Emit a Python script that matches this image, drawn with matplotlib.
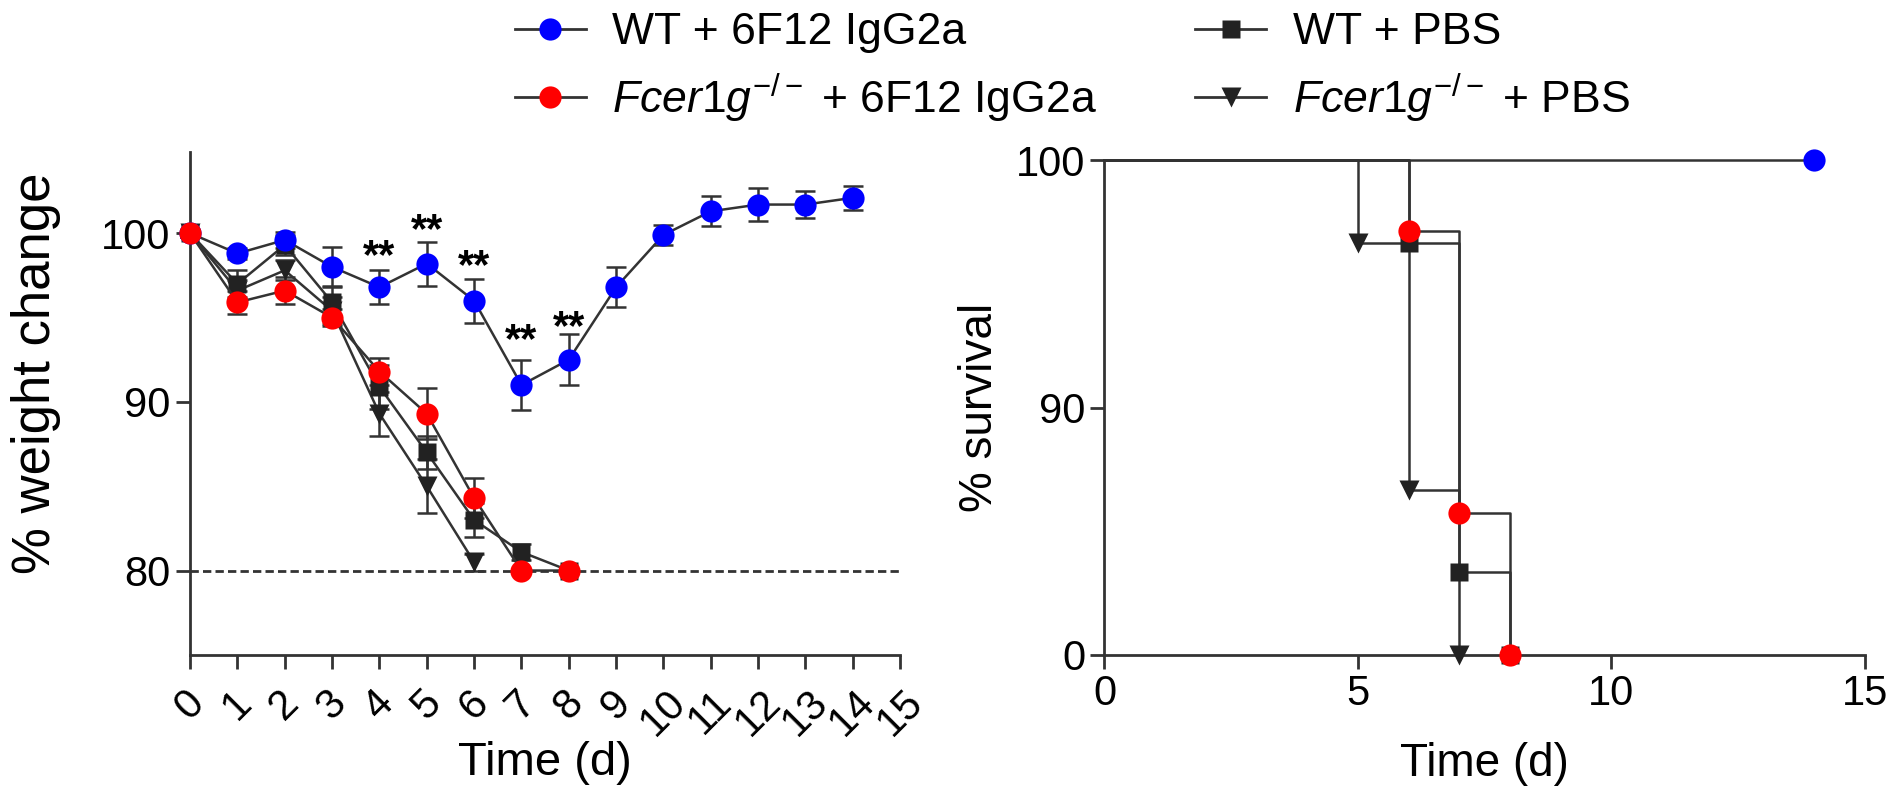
import numpy as np
import matplotlib
matplotlib.use('Agg')
import matplotlib.pyplot as plt
from matplotlib.lines import Line2D

plt.rcParams['font.family'] = ['Liberation Sans', 'DejaVu Sans']
plt.rcParams['mathtext.fontset'] = 'custom'
plt.rcParams['mathtext.rm'] = 'Liberation Sans'
plt.rcParams['mathtext.it'] = 'Liberation Sans:italic'

# weight change (% of day 0), mean and error
wt_6f12 = [100, 98.8, 99.6, 98.0, 96.8, 98.2, 96.0, 91.0, 92.5, 96.8, 99.9, 101.3, 101.7, 101.7, 102.1]
wt_6f12_err = [0.2, 0.3, 0.5, 1.2, 1.0, 1.3, 1.3, 1.5, 1.5, 1.2, 0.6, 0.9, 1.0, 0.8, 0.7]
ko_6f12 = [100, 95.9, 96.6, 95.0, 91.8, 89.3, 84.3, 80.0, 80.0]
ko_6f12_err = [0.2, 0.7, 0.8, 0.5, 0.8, 1.5, 1.2, 0, 0]
wt_pbs = [100, 97.0, 99.3, 95.9, 90.9, 87.0, 83.0, 81.1, 80.0]
wt_pbs_err = [0.2, 0.8, 0.6, 1.0, 1.3, 1.0, 1.0, 0.5, 0]
ko_pbs = [100, 96.6, 97.8, 95.4, 89.3, 85.0, 80.5]
ko_pbs_err = [0.2, 0.6, 0.6, 0.8, 1.3, 1.6, 0.5]

star_days = [4, 5, 6, 7, 8]
star_y = [98.6, 100.1, 98.0, 93.6, 94.4]

# survival steps
surv_wt_6f12_t = [0, 14]
surv_wt_6f12 = [100, 100]
surv_ko_6f12_t = [0, 6, 7, 8]
surv_ko_6f12 = [100, 85.7, 28.6, 0]
surv_wt_pbs_t = [0, 6, 7, 8]
surv_wt_pbs = [100, 83.3, 16.7, 0]
surv_ko_pbs_t = [0, 5, 6, 7]
surv_ko_pbs = [100, 83.3, 33.3, 0]

labels = ['WT + 6F12 IgG2a', r'$\mathit{Fcer1g}^{-/-}$ + 6F12 IgG2a',
          'WT + PBS', r'$\mathit{Fcer1g}^{-/-}$ + PBS']

lc = '#333333'
fs = 30

fig = plt.figure(figsize=(19.01, 7.89), dpi=100)
ax1 = fig.add_axes([0.100, 0.170, 0.3735, 0.637])
ax2 = fig.add_axes([0.581, 0.170, 0.400, 0.627])

series = [
    (ko_pbs, ko_pbs_err, 'v', '#222222', 15),
    (wt_pbs, wt_pbs_err, 's', '#222222', 13),
    (wt_6f12, wt_6f12_err, 'o', '#0000ff', 16),
    (ko_6f12, ko_6f12_err, 'o', '#ff0000', 16),
]
for y, e, m, c, ms in series:
    d = np.arange(len(y))
    ax1.errorbar(d, y, yerr=e, fmt='-', color=lc, lw=1.8, elinewidth=1.8,
                 capsize=7, capthick=1.8, marker=m, ms=ms, mfc=c, mec='none',
                 clip_on=False, zorder=3)

ax1.axhline(80, color=lc, lw=2, ls=(0, (3, 1.5)), zorder=1)
for d, yy in zip(star_days, star_y):
    ax1.text(d, yy, '**', fontsize=fs, ha='center', va='center', fontweight='bold')

ax1.set_xlim(0, 15)
ax1.set_ylim(75, 104.8)
ax1.set_xticks(range(16))
ax1.set_xticklabels([str(i) for i in range(16)], rotation=45, ha='center')
ax1.set_yticks([80, 90, 100])
ax1.set_xlabel('Time (d)', fontsize=34)
ax1.xaxis.set_label_coords(0.5, -0.172)
ax1.set_ylabel('% weight change', fontsize=38)
ax1.yaxis.set_label_coords(-0.182, 0.56)

surv = [
    (surv_ko_pbs_t, surv_ko_pbs, 'v', '#222222', 15),
    (surv_wt_pbs_t, surv_wt_pbs, 's', '#222222', 13),
    (surv_wt_6f12_t, surv_wt_6f12, 'o', '#0000ff', 16),
    (surv_ko_6f12_t, surv_ko_6f12, 'o', '#ff0000', 16),
]
for t, s, m, c, ms in surv:
    ax2.plot(t, s, drawstyle='steps-post', color=lc, lw=1.8, marker=m, ms=ms,
             mfc=c, mec='none', markevery=slice(1, None), clip_on=False, zorder=3)

ax2.set_xlim(0, 15)
ax2.set_ylim(0, 100)
ax2.set_xticks([0, 5, 10, 15])
ax2.set_yticks([0, 50, 100])
ax2.set_yticklabels(['0', '90', '100'])
ax2.set_xlabel('Time (d)', fontsize=33, labelpad=20)
ax2.set_ylabel('% survival', fontsize=33, labelpad=10)

for ax in (ax1, ax2):
    for sp in ['top', 'right']:
        ax.spines[sp].set_visible(False)
    for sp in ['left', 'bottom']:
        ax.spines[sp].set_linewidth(2)
        ax.spines[sp].set_color(lc)
    ax.tick_params(labelsize=fs, width=2, length=10, color=lc, pad=4)
ax1.tick_params(axis='x', pad=10)

handles = [
    Line2D([], [], color=lc, lw=2, marker='o', ms=16, mfc='#0000ff', mec='none'),
    Line2D([], [], color=lc, lw=2, marker='o', ms=16, mfc='#ff0000', mec='none'),
    Line2D([], [], color=lc, lw=2, marker='s', ms=13, mfc='#222222', mec='none'),
    Line2D([], [], color=lc, lw=2, marker='v', ms=15, mfc='#222222', mec='none'),
]
fig.legend(handles, labels, ncol=2, loc='upper center', bbox_to_anchor=(0.564, 1.035),
           frameon=False, fontsize=32, handlelength=1.6, columnspacing=2.2,
           labelspacing=0.4, handletextpad=0.6)

fig.savefig('out.png', dpi=100)
